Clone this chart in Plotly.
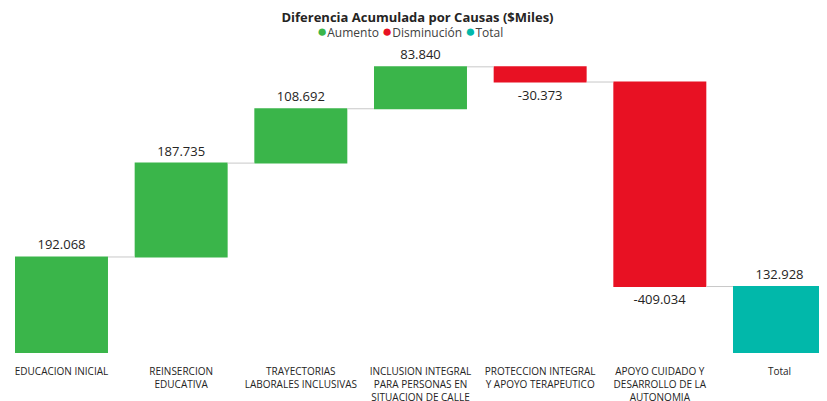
import plotly.graph_objects as go

categories = ["EDUCACION INICIAL", "REINSERCION<br>EDUCATIVA", "TRAYECTORIAS<br>LABORALES INCLUSIVAS",
              "INCLUSION INTEGRAL<br>PARA PERSONAS EN<br>SITUACION DE CALLE",
              "PROTECCION INTEGRAL<br>Y APOYO TERAPEUTICO",
              "APOYO CUIDADO Y<br>DESARROLLO DE LA<br>AUTONOMIA", "Total"]
values = [192068, 187735, 108692, 83840, -30373, -409034, 132928]
measures = ["relative"] * 6 + ["total"]
legend_names = ["Aumento", "Disminución", "Total"]

GREEN = "#3AB54A"
RED = "#E81123"
TEAL = "#01B8AA"

def fmt(v):
    s = f"{abs(v):,}".replace(",", ".")
    return ("-" if v < 0 else "") + s

text = [fmt(v) for v in values]

fig = go.Figure()
fig.add_trace(go.Waterfall(
    x=list(range(len(categories))), y=values, measure=measures,
    text=text, textposition="outside",
    textfont=dict(family="Open Sans", size=13, color="#252423"),
    increasing=dict(marker=dict(color=GREEN)),
    decreasing=dict(marker=dict(color=RED)),
    totals=dict(marker=dict(color=TEAL)),
    connector=dict(mode="between", line=dict(color="#C8C8C8", width=1)),
    width=0.777, showlegend=False, cliponaxis=False,
))

legend_text = " ".join(
    f'<span style="color:{c};font-size:17px">●</span>{n}'
    for n, c in zip(legend_names, [GREEN, RED, TEAL])
)

H, T, B = 393, 47, 48
fig.update_layout(
    width=819, height=H,
    margin=dict(l=0, r=0, t=T, b=B),
    paper_bgcolor="white", plot_bgcolor="white",
    title=dict(text="<b>Diferencia Acumulada por Causas ($Miles)</b>", x=0.5, xanchor="center",
               y=0.977, yanchor="middle",
               font=dict(family="Open Sans", size=13, color="#252423")),
    annotations=[dict(text=legend_text, xref="paper", yref="paper", x=0.491,
                      y=(H - B - 23) / (H - T - B),
                      xanchor="center", yanchor="middle", showarrow=False,
                      font=dict(family="Open Sans", size=12, color="#404040"))],
    showlegend=False,
    xaxis=dict(range=[-0.447, 6.397], tickmode="array", tickvals=list(range(len(categories))),
               ticktext=categories, showgrid=False, zeroline=False, showline=False,
               ticks="outside", ticklen=9, tickcolor="rgba(0,0,0,0)", automargin=False,
               tickfont=dict(family="Open Sans", size=10, color="#252423")),
    yaxis=dict(range=[0, 596000], visible=False, showgrid=False, automargin=False),
)
fig.write_html("out.html")
